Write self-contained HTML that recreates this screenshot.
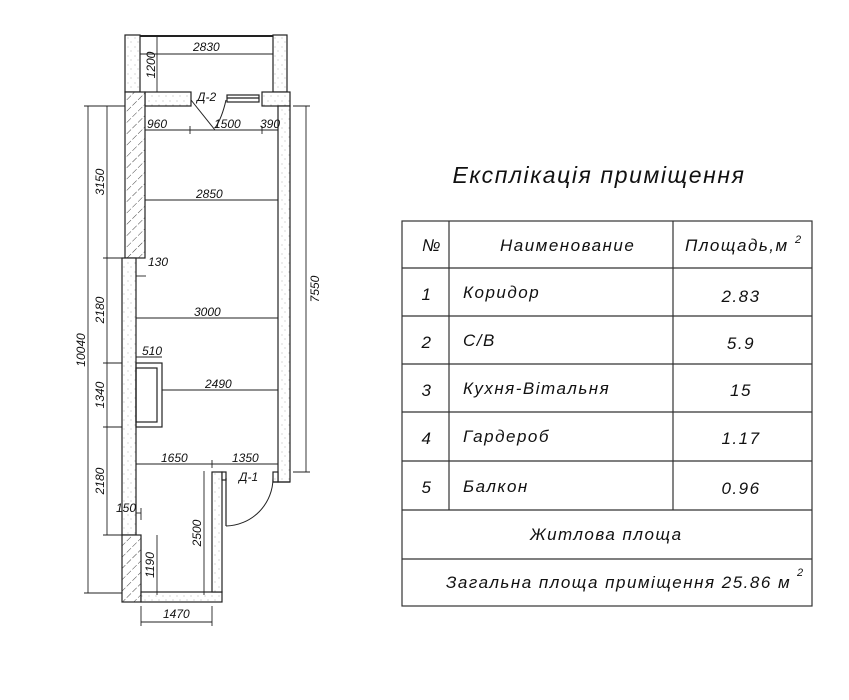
<!DOCTYPE html>
<html><head><meta charset="utf-8"><style>
html,body{margin:0;padding:0;background:#fff}
svg{display:block}
text{font-family:"Liberation Sans","DejaVu Sans",sans-serif;font-style:italic;fill:#111}
</style></head><body>
<svg width="849" height="700" viewBox="0 0 849 700" xmlns="http://www.w3.org/2000/svg">
<defs>
<pattern id="h" width="8" height="8" patternUnits="userSpaceOnUse" patternTransform="rotate(45)">
<rect width="8" height="8" fill="#fff"/><line x1="0" y1="0" x2="0" y2="8" stroke="#444" stroke-width="1" stroke-dasharray="5,2"/></pattern>
<pattern id="d" width="7" height="9" patternUnits="userSpaceOnUse">
<rect width="7" height="9" fill="#fff"/><circle cx="2" cy="2" r="0.5" fill="#999"/><circle cx="5" cy="6" r="0.5" fill="#999"/></pattern>
</defs>
<g stroke="#222" stroke-width="1.2">
<rect x="125" y="35" width="15" height="57" fill="url(#d)"/>
<rect x="273" y="35" width="14" height="57" fill="url(#d)"/>
<line x1="140" y1="36" x2="273" y2="36" stroke-width="2"/>
<rect x="145" y="92" width="46" height="14" fill="url(#d)"/>
<rect x="262" y="92" width="28" height="14" fill="url(#d)"/>
<rect x="227" y="95" width="32" height="7" fill="#fff"/>
<line x1="227" y1="98" x2="259" y2="98"/>
<rect x="125" y="92" width="20" height="166" fill="url(#h)"/>
<rect x="122" y="258" width="14" height="277" fill="url(#d)"/>
<rect x="122" y="535" width="19" height="67" fill="url(#h)"/>
<rect x="141" y="592" width="81" height="10" fill="url(#d)"/>
<rect x="212" y="472" width="10" height="120" fill="url(#d)"/>
<rect x="222" y="472" width="4" height="8" fill="#fff"/>
<rect x="278" y="106" width="12" height="376" fill="url(#d)"/>
<rect x="273" y="472" width="5" height="10" fill="url(#d)"/>
<line x1="273" y1="482" x2="290" y2="482"/>
<line x1="226" y1="478" x2="226" y2="526"/>
<path d="M226 526 A48 48 0 0 0 273 478" fill="none" stroke-width="1"/>
<line x1="191" y1="100" x2="215" y2="130" stroke-width="1"/>
<path d="M226 100 Q222 118 215 128" fill="none" stroke-width="1"/>
<rect x="136" y="363" width="26" height="64" fill="none"/>
<rect x="136" y="368" width="21" height="54" fill="none"/>
</g>
<g stroke="#222" stroke-width="0.9" fill="none">
<line x1="140" y1="54" x2="273" y2="54"/>
<line x1="157" y1="36" x2="157" y2="92"/>
<line x1="145" y1="130" x2="278" y2="130"/>
<line x1="190" y1="126" x2="190" y2="134"/><line x1="262" y1="126" x2="262" y2="134"/>
<line x1="145" y1="200" x2="278" y2="200"/>
<line x1="136" y1="318" x2="278" y2="318"/>
<line x1="162" y1="390" x2="278" y2="390"/>
<line x1="136" y1="464" x2="278" y2="464"/>
<line x1="212" y1="460" x2="212" y2="468"/>
<line x1="136" y1="357" x2="162" y2="357"/>
<line x1="107" y1="106" x2="107" y2="535"/>
<line x1="103" y1="106" x2="125" y2="106"/>
<line x1="103" y1="258" x2="122" y2="258"/>
<line x1="103" y1="363" x2="122" y2="363"/>
<line x1="103" y1="427" x2="122" y2="427"/>
<line x1="103" y1="535" x2="122" y2="535"/>
<line x1="88" y1="106" x2="88" y2="593"/>
<line x1="84" y1="106" x2="125" y2="106"/>
<line x1="84" y1="593" x2="122" y2="593"/>
<line x1="306" y1="106" x2="306" y2="472"/>
<line x1="293" y1="106" x2="310" y2="106"/>
<line x1="293" y1="472" x2="310" y2="472"/>
<line x1="157" y1="535" x2="157" y2="595"/>
<line x1="204" y1="471" x2="204" y2="595"/>
<line x1="141" y1="622" x2="212" y2="622"/>
<line x1="141" y1="606" x2="141" y2="626"/><line x1="212" y1="606" x2="212" y2="626"/>
<line x1="136" y1="276" x2="146" y2="276"/>
<line x1="136" y1="513" x2="141" y2="513"/><line x1="141" y1="508" x2="141" y2="520"/>
</g>
<g font-size="12">
<text x="193" y="51">2830</text>
<text transform="translate(155,65) rotate(-90)" text-anchor="middle">1200</text>
<text x="197" y="101">Д-2</text>
<text x="147" y="128">960</text>
<text x="214" y="128">1500</text>
<text x="260" y="128">390</text>
<text x="196" y="198">2850</text>
<text x="194" y="316">3000</text>
<text x="205" y="388">2490</text>
<text x="142" y="355">510</text>
<text x="161" y="462">1650</text>
<text x="232" y="462">1350</text>
<text x="239" y="481">Д-1</text>
<text x="148" y="266">130</text>
<text x="116" y="512">150</text>
<text x="163" y="618">1470</text>
<text transform="translate(104,182) rotate(-90)" text-anchor="middle">3150</text>
<text transform="translate(104,310) rotate(-90)" text-anchor="middle">2180</text>
<text transform="translate(104,395) rotate(-90)" text-anchor="middle">1340</text>
<text transform="translate(104,481) rotate(-90)" text-anchor="middle">2180</text>
<text transform="translate(85,350) rotate(-90)" text-anchor="middle">10040</text>
<text transform="translate(319,289) rotate(-90)" text-anchor="middle">7550</text>
<text transform="translate(154,565) rotate(-90)" text-anchor="middle">1190</text>
<text transform="translate(201,533) rotate(-90)" text-anchor="middle">2500</text>
</g>
<text x="599" y="183" font-size="23" text-anchor="middle" letter-spacing="1.6">Експлікація приміщення</text>
<g stroke="#333" stroke-width="1.2" fill="none">
<rect x="402" y="221" width="410" height="385"/>
<line x1="402" y1="268" x2="812" y2="268"/>
<line x1="402" y1="316" x2="812" y2="316"/>
<line x1="402" y1="364" x2="812" y2="364"/>
<line x1="402" y1="412" x2="812" y2="412"/>
<line x1="402" y1="461" x2="812" y2="461"/>
<line x1="402" y1="510" x2="812" y2="510"/>
<line x1="402" y1="559" x2="812" y2="559"/>
<line x1="449" y1="221" x2="449" y2="510"/>
<line x1="673" y1="221" x2="673" y2="510"/>
</g>
<g font-size="17" letter-spacing="1.5">
<text x="422" y="251">№</text>
<text x="500" y="251">Наименование</text>
<text x="685" y="251">Площадь,м</text><text x="795" y="243" font-size="11">2</text>
<text x="427" y="300" text-anchor="middle">1</text>
<text x="427" y="348" text-anchor="middle">2</text>
<text x="427" y="396" text-anchor="middle">3</text>
<text x="427" y="444" text-anchor="middle">4</text>
<text x="427" y="493" text-anchor="middle">5</text>
<text x="463" y="298">Коридор</text>
<text x="463" y="346">С/В</text>
<text x="463" y="394">Кухня-Вітальня</text>
<text x="463" y="442">Гардероб</text>
<text x="463" y="492">Балкон</text>
<text x="741" y="302" text-anchor="middle">2.83</text>
<text x="741" y="349" text-anchor="middle">5.9</text>
<text x="741" y="396" text-anchor="middle">15</text>
<text x="741" y="444" text-anchor="middle">1.17</text>
<text x="741" y="494" text-anchor="middle">0.96</text>
<text x="530" y="540">Житлова площа</text>
<text x="446" y="588">Загальна площа приміщення 25.86 м</text><text x="797" y="576" font-size="11">2</text>
</g>
</svg>
</body></html>
